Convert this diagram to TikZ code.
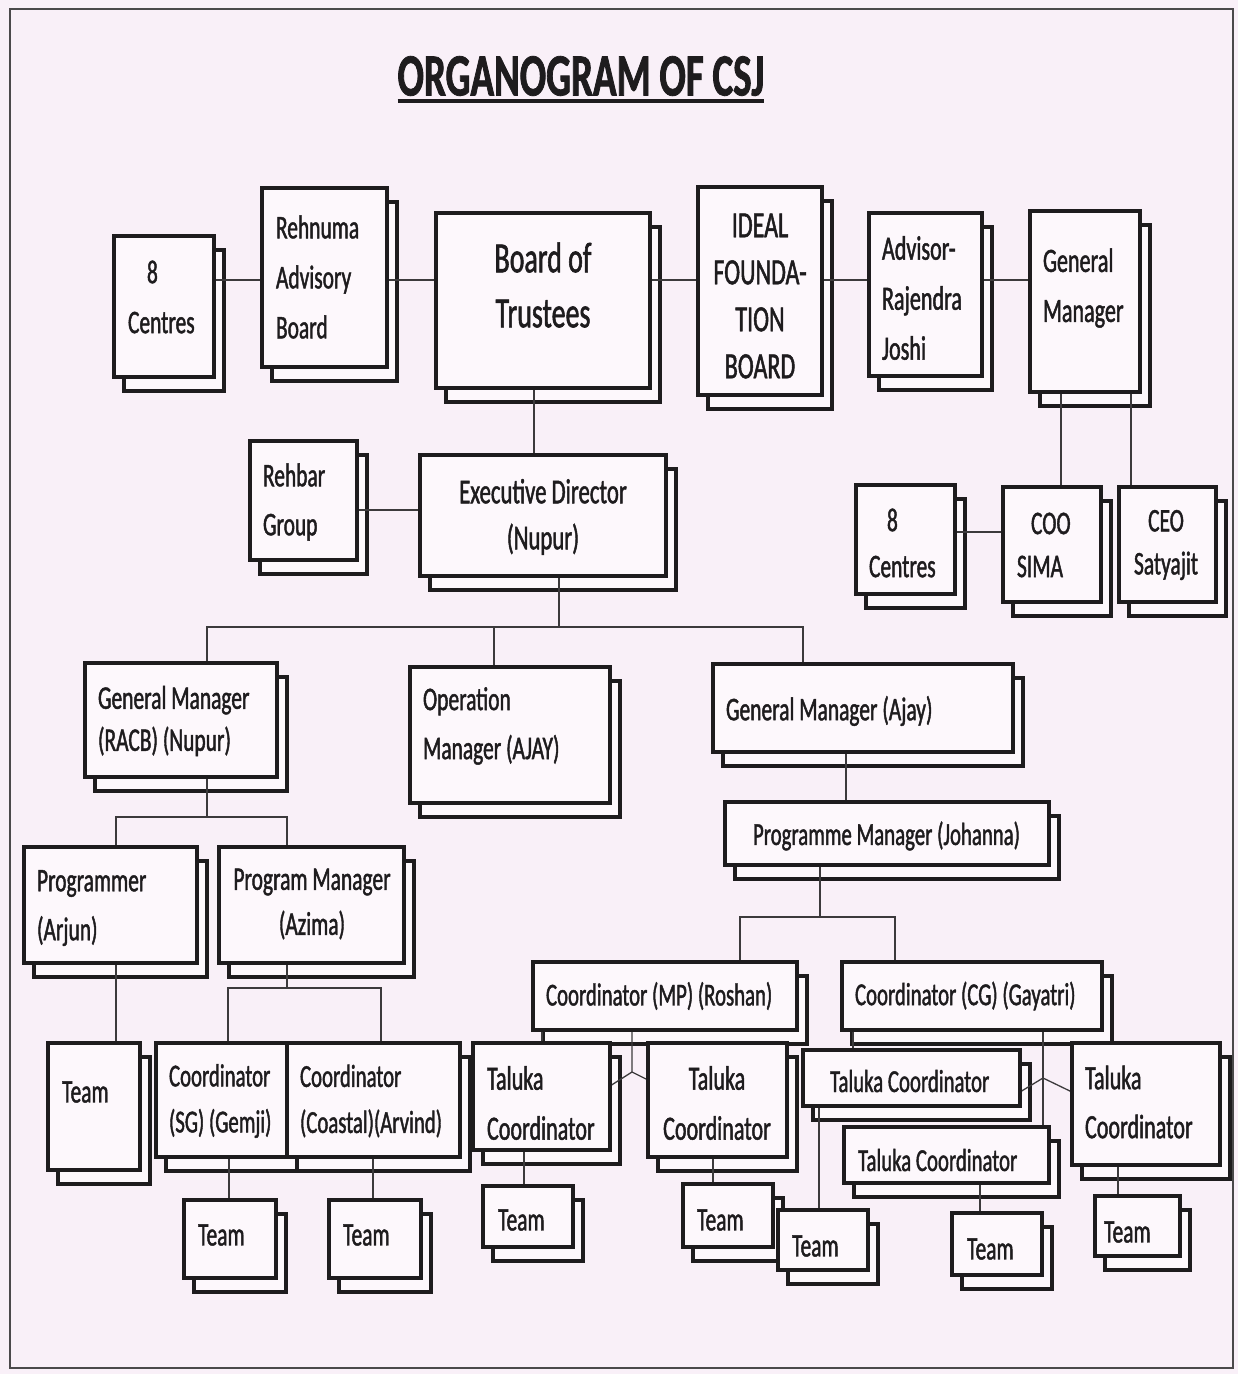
\documentclass[tikz,border=0pt]{standalone}
\usepackage{fontspec}
\newfontfamily\cf{Carlito}[FakeStretch=0.65, FakeBold=1.3]
\pgfdeclarelayer{bgl}
\pgfdeclarelayer{shl}
\pgfdeclarelayer{lnl}
\pgfsetlayers{bgl,shl,lnl,main}
\definecolor{paper}{RGB}{249,240,248}
\definecolor{boxfill}{RGB}{253,248,252}
\definecolor{ink}{RGB}{30,28,30}
\definecolor{wire}{RGB}{60,58,60}
\tikzset{
 mbox/.style={draw=ink, line width=3.2pt, fill=boxfill, rectangle, inner sep=0pt, outer sep=0pt},
 shbox/.style={draw=ink, line width=3.2pt, fill=boxfill},
 conn/.style={draw=wire, line width=1.3pt},
 txt/.style 2 args={font=\cf\fontsize{#1}{#2}\selectfont, inner sep=0pt, outer sep=0pt, align=left, text=ink},
}
\newcommand\obox[5]{%
 \begin{pgfonlayer}{shl}
 \draw[shbox] (#2+10,#3+14) rectangle (#4+10,#5+14);
 \end{pgfonlayer}
 \node[mbox, anchor=north west, minimum width={#4-#2}, minimum height={#5-#3}] (#1) at (#2,#3) {};
}
\begin{document}
\begin{tikzpicture}[x=1pt,y=-1pt]
\useasboundingbox (0,0) rectangle (1238,1374);
\begin{pgfonlayer}{bgl}
\fill[paper] (0,0) rectangle (1238,1374);
\draw[line width=2pt, draw=ink!80] (10,9) rectangle (1233,1368);
\end{pgfonlayer}

% title
\node[txt={60}{60}] (title) at (581,76) {\bfseries ORGANOGRAM OF CSJ};
\draw[line width=4.5pt, ink] (title.west |- 0,101) -- (title.east |- 0,101);

% boxes
\obox{tc8}{114}{236}{214}{377}
\obox{reh}{262}{188}{387}{367}
\obox{bot}{436}{213}{650}{388}
\obox{ideal}{698}{187}{822}{395}
\obox{adv}{869}{213}{982}{376}
\obox{gmt}{1030}{211}{1140}{392}
\obox{rehbar}{250}{441}{357}{560}
\obox{ed}{420}{455}{666}{576}
\obox{cr8}{856}{485}{955}{594}
\obox{coo}{1003}{487}{1101}{602}
\obox{ceo}{1119}{487}{1216}{602}
\obox{racb}{85}{663}{277}{777}
\obox{opm}{410}{667}{610}{803}
\obox{gmaj}{713}{664}{1013}{752}
\obox{pmj}{725}{802}{1049}{865}
\obox{prg}{24}{847}{197}{963}
\obox{pgm}{219}{847}{404}{963}
\obox{teama}{48}{1043}{140}{1170}
\obox{sg}{156}{1043}{287}{1157}
\obox{coastal}{287}{1043}{460}{1157}
\obox{teamb}{184}{1200}{276}{1278}
\obox{teamc}{329}{1200}{421}{1278}
\obox{roshan}{533}{962}{797}{1030}
\obox{gayatri}{842}{962}{1102}{1030}
\obox{tka}{473}{1043}{610}{1150}
\obox{tkb}{648}{1043}{787}{1157}
\obox{tkc}{803}{1050}{1020}{1106}
\obox{tkd}{844}{1127}{1049}{1183}
\obox{tke}{1072}{1043}{1220}{1165}
\obox{tma}{483}{1186}{573}{1247}
\obox{tmb}{683}{1184}{773}{1247}
\obox{tmc}{778}{1210}{868}{1270}
\obox{tmd}{952}{1213}{1042}{1275}
\obox{tme}{1095}{1196}{1180}{1256}

% texts
\node[txt={33}{50}, anchor=west] (tc8-t) at (128,297) {\hspace*{19pt}8\\Centres};
\node[txt={33}{50}, anchor=west] (reh-t) at (276,277) {Rehnuma\\Advisory\\Board};
\node[txt={43}{55}, align=center] (bot-t) at (543,285) {Board of\\Trustees};
\node[txt={37}{47}, align=center] (ideal-t) at (760,296) {IDEAL\\FOUNDA-\\TION\\BOARD};
\node[txt={34}{50}, anchor=west] (adv-t) at (882,298) {Advisor-\\Rajendra\\Joshi};
\node[txt={34}{50}, anchor=west] (gmt-t) at (1043,288) {General\\Manager};
\node[txt={33}{49}, anchor=west] (rehbar-t) at (263,502) {Rehbar\\Group};
\node[txt={35}{46}, align=center] (ed-t) at (543,517) {Executive Director\\(Nupur)};
\node[txt={33}{46}, anchor=west] (cr8-t) at (869,543) {\hspace*{18pt}8\\Centres};
\node[txt={33}{43}, anchor=west] (coo-t) at (1017,545) {\hspace*{14pt}COO\\SIMA};
\node[txt={33}{43}, align=center] (ceo-t) at (1166,545) {CEO\\Satyajit};
\node[txt={33}{42}, anchor=west] (racb-t) at (98,721) {General Manager\\(RACB) (Nupur)};
\node[txt={33}{49}, anchor=west] (opm-t) at (423,726) {Operation\\Manager (AJAY)};
\node[txt={33}{49}, anchor=west] (gmaj-t) at (726,711) {General Manager (Ajay)};
\node[txt={32}{49}, anchor=west] (pmj-t) at (753,836) {Programme Manager (Johanna)};
\node[txt={33}{49}, anchor=west] (prg-t) at (37,908) {Programmer\\(Arjun)};
\node[txt={33}{45}, align=center] (pgm-t) at (312,904) {Program Manager\\(Azima)};
\node[txt={33}{49}, anchor=west] (teama-t) at (62,1092) {Team};
\node[txt={32}{46}, anchor=west] (sg-t) at (169,1101) {Coordinator\\(SG) (Gemji)};
\node[txt={32}{46}, anchor=west] (coastal-t) at (300,1101) {Coordinator\\(Coastal)(Arvind)};
\node[txt={33}{49}, anchor=west] (teamb-t) at (198,1235) {Team};
\node[txt={33}{49}, anchor=west] (teamc-t) at (343,1235) {Team};
\node[txt={32}{49}, anchor=west] (roshan-t) at (546,996) {Coordinator (MP) (Roshan)};
\node[txt={32}{49}, anchor=west] (gayatri-t) at (855,996) {Coordinator (CG) (Gayatri)};
\node[txt={34}{50}, anchor=west] (tka-t) at (487,1103) {Taluka\\Coordinator};
\node[txt={34}{50}, align=center] (tkb-t) at (717,1103) {Taluka\\Coordinator};
\node[txt={32}{49}, anchor=west] (tkc-t) at (830,1081) {Taluka Coordinator};
\node[txt={32}{49}, anchor=west] (tkd-t) at (858,1160) {Taluka Coordinator};
\node[txt={34}{49}, anchor=west] (tke-t) at (1085,1102) {Taluka\\Coordinator};
\node[txt={33}{49}, anchor=west] (tma-t) at (498,1220) {Team};
\node[txt={33}{49}, anchor=west] (tmb-t) at (697,1220) {Team};
\node[txt={33}{49}, anchor=west] (tmc-t) at (792,1246) {Team};
\node[txt={33}{49}, anchor=west] (tmd-t) at (967,1249) {Team};
\node[txt={33}{49}, anchor=west] (tme-t) at (1104,1232) {Team};

% connectors
\begin{pgfonlayer}{lnl}
\draw[conn] (tc8.east |- 0,280) -- (reh.west |- 0,280);
\draw[conn] (reh.east |- 0,280) -- (bot.west |- 0,280);
\draw[conn] (bot.east |- 0,280) -- (ideal.west |- 0,280);
\draw[conn] (ideal.east |- 0,280) -- (adv.west |- 0,280);
\draw[conn] (adv.east |- 0,280) -- (gmt.west |- 0,280);
\draw[conn] (bot.south -| 534,0) -- (ed.north -| 534,0);
\draw[conn] (rehbar.east |- 0,510) -- (ed.west |- 0,510);
\draw[conn] (gmt.south -| 1061,0) -- (coo.north -| 1061,0);
\draw[conn] (gmt.south -| 1131,0) -- (ceo.north -| 1131,0);
\draw[conn] (cr8.east |- 0,532) -- (coo.west |- 0,532);
\coordinate (hubA) at (559,627);
\draw[conn] (ed.south -| hubA) -- (hubA);
\draw[conn] (racb.north -| 207,0) |- (803,627) -- (gmaj.north -| 803,0);
\draw[conn] (opm.north -| 494,0) -- (494,627);
\draw[conn] (gmaj.south -| 846,0) -- (pmj.north -| 846,0);
\coordinate (hubB) at (207,817);
\draw[conn] (racb.south -| hubB) -- (hubB);
\draw[conn] (prg.north -| 116,0) |- (287,817) -- (pgm.north -| 287,0);
\draw[conn] (prg.south -| 116,0) -- (teama.north -| 116,0);
\coordinate (hubC) at (287,988);
\draw[conn] (pgm.south -| hubC) -- (hubC);
\draw[conn] (sg.north -| 228,0) |- (381,988) -- (coastal.north -| 381,0);
\draw[conn] (sg.south -| 229,0) -- (teamb.north -| 229,0);
\draw[conn] (coastal.south -| 373,0) -- (teamc.north -| 373,0);
\coordinate (hubD) at (820,917);
\draw[conn] (pmj.south -| hubD) -- (hubD);
\draw[conn] (roshan.north -| 740,0) |- (895,917) -- (gayatri.north -| 895,0);
\draw[conn] (roshan.south -| 542,0) -- (tka.north -| 542,0);
\coordinate (jr) at (632,1072);
\draw[conn] (roshan.south -| jr) -- (jr) -- (tka.east |- 0,1086);
\draw[conn] (jr) -- (tkb.west |- 0,1080);
\draw[conn] (gayatri.south -| 853,0) -- (tkc.north -| 853,0);
\draw[conn] (gayatri.south -| 1043,0) -- (tkd.north -| 1043,0);
\coordinate (jg) at (1043,1078);
\draw[conn] (jg) -- (tkc.east |- 0,1092);
\draw[conn] (jg) -- (tke.west |- 0,1092);
\draw[conn] (tka.south -| 524,0) -- (tma.north -| 524,0);
\draw[conn] (tkb.south -| 713,0) -- (tmb.north -| 713,0);
\draw[conn] (tkc.south -| 819,0) -- (tmc.north -| 819,0);
\draw[conn] (tkd.south -| 980,0) -- (tmd.north -| 980,0);
\draw[conn] (tke.south -| 1118,0) -- (tme.north -| 1118,0);
\end{pgfonlayer}
\end{tikzpicture}
\end{document}
